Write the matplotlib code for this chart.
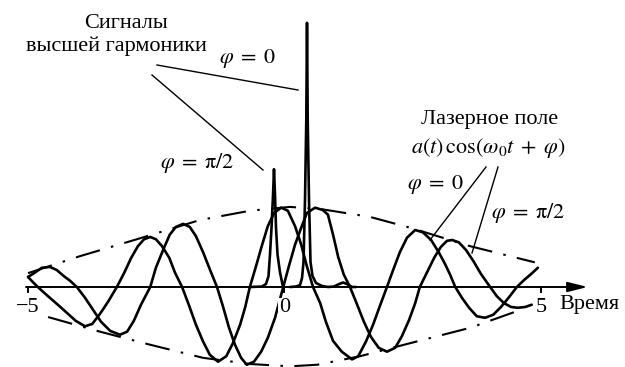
import matplotlib
matplotlib.use('Agg')
import matplotlib.pyplot as plt

plt.rcParams['font.family'] = ['Liberation Serif', 'DejaVu Serif']
plt.rcParams['mathtext.fontset'] = 'stix'

# ---------------- data (time, amplitude) ----------------
t_laser_phi0 = [-4.99, -4.89, -4.80, -4.60, -4.41, -4.21, -4.06, -3.88, -3.74, -3.59, -3.43, -3.26,
                -3.12, -2.98, -2.85, -2.73, -2.61, -2.50, -2.38, -2.24, -2.13, -1.99,
                -1.86, -1.72, -1.58, -1.45, -1.29, -1.13, -1.00, -0.86, -0.76, -0.67,
                -0.55, -0.43, -0.32, -0.20, -0.06, 0.07, 0.21, 0.33, 0.44, 0.56,
                0.70, 0.81, 0.95, 1.12, 1.32, 1.44, 1.59, 1.73, 1.86, 2.00,
                2.12, 2.25, 2.39, 2.55, 2.70, 2.86, 3.01, 3.13, 3.23, 3.33,
                3.46, 3.60, 3.75, 3.91, 4.07, 4.22, 4.38, 4.53, 4.67, 4.81, 4.94]
y_laser_phi0 = [0.13, 0.06, 0.00, -0.12, -0.23, -0.35, -0.44, -0.51, -0.48, -0.35, -0.19, 0.00,
                0.18, 0.38, 0.53, 0.62, 0.65, 0.62, 0.53, 0.38, 0.19, 0.00,
                -0.23, -0.49, -0.71, -0.88, -0.97, -0.90, -0.73, -0.49, -0.26, 0.00,
                0.27, 0.55, 0.79, 0.96, 1.03, 0.99, 0.79, 0.55, 0.27, 0.00,
                -0.21, -0.45, -0.70, -0.84, -0.94, -0.90, -0.71, -0.49, -0.25, 0.00,
                0.22, 0.45, 0.64, 0.74, 0.71, 0.61, 0.45, 0.30, 0.16, 0.00,
                -0.14, -0.27, -0.38, -0.40, -0.36, -0.26, -0.13, 0.00, 0.09, 0.17, 0.25]

t_laser_phi90 = [-4.99, -4.85, -4.72, -4.56, -4.43, -4.29, -4.17, -4.04,
                 -3.88, -3.72, -3.57, -3.39, -3.20, -3.06, -2.93, -2.79, -2.61,
                 -2.50, -2.36, -2.23, -2.11, -1.97, -1.84, -1.72, -1.58, -1.45, -1.31,
                 -1.19, -1.08, -0.96, -0.84, -0.73, -0.59, -0.45, -0.32, -0.18, -0.02,
                 0.09, 0.21, 0.33, 0.44, 0.60, 0.75, 0.85, 0.95, 1.05, 1.16, 1.28,
                 1.42, 1.55, 1.69, 1.84, 2.00, 2.16, 2.29, 2.43, 2.55, 2.64,
                 2.78, 2.92, 3.05, 3.17, 3.27, 3.40, 3.54, 3.68, 3.83, 4.01,
                 4.14, 4.28, 4.42, 4.55, 4.69, 4.82]
y_laser_phi90 = [0.13, 0.19, 0.25, 0.26, 0.22, 0.14, 0.08, 0.00,
                 -0.14, -0.30, -0.45, -0.57, -0.62, -0.58, -0.44, -0.23, 0.00,
                 0.25, 0.48, 0.68, 0.78, 0.82, 0.78, 0.66, 0.45, 0.23, 0.00,
                 -0.26, -0.52, -0.75, -0.92, -1.01, -0.97, -0.84, -0.66, -0.40, 0.00,
                 0.27, 0.55, 0.77, 0.96, 1.03, 1.00, 0.94, 0.68, 0.39, 0.16, 0.00,
                 -0.23, -0.45, -0.65, -0.79, -0.84, -0.79, -0.64, -0.43, -0.21, 0.00,
                 0.19, 0.38, 0.52, 0.60, 0.61, 0.58, 0.48, 0.34, 0.17, 0.00,
                 -0.12, -0.21, -0.26, -0.27, -0.26, -0.23]

t_env_top = [-4.99, -3.98, -2.87, -1.64, -0.67, 0.11, 0.73, 1.67, 2.45, 3.62, 4.88]
y_env_top = [0.18, 0.40, 0.62, 0.87, 0.99, 1.04, 1.01, 0.91, 0.77, 0.53, 0.32]
t_env_bot = [-4.60, -3.59, -2.61, -1.58, -0.67, 0.11, 0.64, 1.47, 2.45, 3.62, 4.59]
y_env_bot = [-0.39, -0.58, -0.75, -0.92, -1.00, -1.03, -1.01, -0.90, -0.73, -0.53, -0.30]

t_hhg_phi90 = [-0.667, -0.433, -0.355, -0.307, -0.278, -0.248, -0.219, -0.200,
               -0.180, -0.161, -0.131, -0.083, -0.024]
y_hhg_phi90 = [0.0, 0.006, 0.04, 0.14, 0.42, 0.77, 1.19, 1.53, 1.19, 0.77, 0.42, 0.19, 0.0]

t_hhg_phi0 = [0.112, 0.229, 0.307, 0.346, 0.375, 0.404, 0.429, 0.443, 0.457, 0.482, 0.511,
              0.550, 0.618, 0.735, 0.852, 0.969, 1.047, 1.144, 1.222, 1.319, 1.397]
y_hhg_phi0 = [0.0, 0.006, 0.026, 0.117, 0.325, 1.13, 2.17, 3.43, 2.17, 1.13, 0.325,
              0.143, 0.052, 0.013, 0.0, 0.006, 0.032, 0.058, 0.039, 0.0, 0.0]

tick_values = [-5, 0, 5]
tick_labels = ['\u22125', '0', '5']
axis_label = 'Время'

# ---------------- figure ----------------
W, H = 625, 367
fig = plt.figure(figsize=(W / 100, H / 100), dpi=100)
ax = fig.add_axes([0, 0, 1, 1])
ax.set_xlim(-5.536, 6.636)
ax.set_ylim(-1.039, 3.727)
ax.axis('off')

def P(x, y):
    return (x / W, 1 - y / H)

lw = 1.9
for t, y in [(t_laser_phi0, y_laser_phi0), (t_laser_phi90, y_laser_phi90),
             (t_hhg_phi90, y_hhg_phi90), (t_hhg_phi0, y_hhg_phi0)]:
    ax.plot(t, y, color='black', lw=lw, solid_joinstyle='round', solid_capstyle='round')

dash = (0, (12, 5.5, 1.2, 5.5))
for t, y in [(t_env_top, y_env_top), (t_env_bot, y_env_bot)]:
    ax.plot(t, y, color='black', lw=1.5, linestyle=dash, dash_capstyle='butt')

# time axis with arrow
ax.annotate('', xy=(5.91, 0), xytext=(-5.03, 0),
            arrowprops=dict(arrowstyle='-|>,head_length=1.2,head_width=0.3',
                            lw=1.4, color='black', mutation_scale=10,
                            shrinkA=0, shrinkB=0))
for tv, lab in zip(tick_values, tick_labels):
    ax.plot([tv, tv], [0, -0.07], color='black', lw=1.4)
    ax.text(tv, -0.27, lab, ha='center', va='center', fontsize=16, zorder=5,
            bbox=dict(facecolor='white', edgecolor='none', pad=0.5))
fig.text(*P(589, 305), axis_label, ha='center', va='center', fontsize=16)

fs = 16
fig.text(*P(126, 23), 'Сигналы', ha='center', va='center', fontsize=fs)
fig.text(*P(116, 46), 'высшей гармоники', ha='center', va='center', fontsize=fs)
fig.text(*P(247, 58), r'$\varphi\;=\;0$', ha='center', va='center', fontsize=fs)
fig.text(*P(197, 163), r'$\varphi\;=\;\mathrm{\pi}/2$', ha='center', va='center', fontsize=fs)
fig.text(*P(490, 120), 'Лазерное поле', ha='center', va='center', fontsize=fs)
fig.text(*P(488, 148), r'$a(t)\,\cos(\omega_0 t\;+\;\varphi)$', ha='center', va='center', fontsize=fs)
fig.text(*P(435, 185), r'$\varphi\;=\;0$', ha='center', va='center', fontsize=fs)
fig.text(*P(528, 213), r'$\varphi\;=\;\mathrm{\pi}/2$', ha='center', va='center', fontsize=fs)

# pointer lines
for (x0, y0), (x1, y1) in [((157, 65), (298, 90)), ((152, 75), (263, 170)),
                           ((486, 167), (430, 240)), ((498, 167), (472, 253))]:
    a, b = P(x0, y0), P(x1, y1)
    fig.add_artist(plt.Line2D([a[0], b[0]], [a[1], b[1]], transform=fig.transFigure,
                              color='black', lw=1.0))

fig.savefig('out.png', dpi=100)
